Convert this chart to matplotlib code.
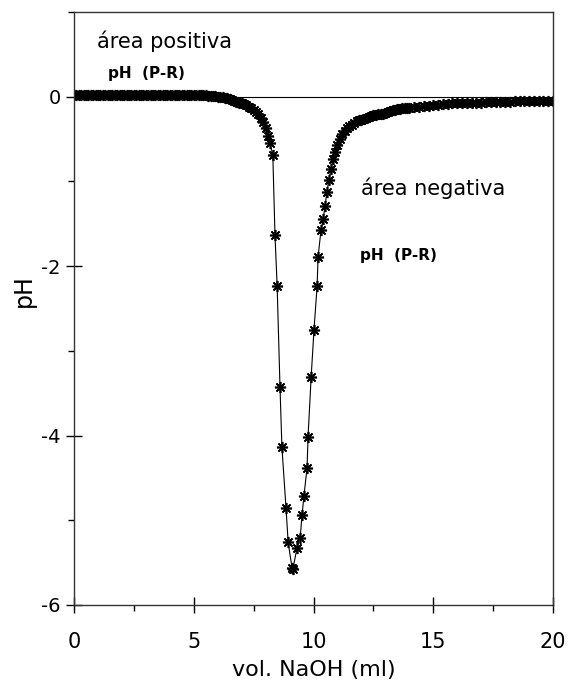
import matplotlib
matplotlib.use("Agg")
import matplotlib.pyplot as plt
from matplotlib.ticker import MultipleLocator

plt.rcParams['font.family'] = ['DejaVu Sans']
plt.rcParams['axes.unicode_minus'] = False

# vol. NaOH (ml) and pH difference (P-R)
vol = [0.0, 0.1, 0.2, 0.3, 0.4, 0.5, 0.6, 0.7, 0.8, 0.9, 1.0, 1.1, 1.2, 1.3,
       1.4, 1.5, 1.6, 1.7, 1.8, 1.9, 2.0, 2.1, 2.2, 2.3, 2.4, 2.5, 2.6, 2.7,
       2.8, 2.9, 3.0, 3.1, 3.2, 3.3, 3.4, 3.5, 3.6, 3.7, 3.8, 3.9, 4.0, 4.1,
       4.2, 4.3, 4.4, 4.5, 4.6, 4.7, 4.8, 4.9, 5.0, 5.1, 5.2, 5.3, 5.4, 5.5,
       5.6, 5.7, 5.8, 5.9, 6.0, 6.1, 6.2, 6.3, 6.4, 6.5, 6.6, 6.7, 6.8, 6.9,
       7.0, 7.1, 7.2, 7.3, 7.4, 7.5, 7.6, 7.7, 7.8, 7.9, 8.0, 8.1, 8.18, 8.3,
       8.39, 8.48, 8.6, 8.68, 8.85, 8.94, 9.1, 9.14, 9.31, 9.44, 9.52, 9.6,
       9.73, 9.77, 9.9, 10.02, 10.15, 10.19, 10.31, 10.4, 10.48, 10.56, 10.64,
       10.72, 10.81, 10.9, 11.0, 11.1, 11.2, 11.3, 11.4, 11.5, 11.6, 11.7,
       11.8, 11.9, 12.0, 12.1, 12.2, 12.3, 12.4, 12.5, 12.6, 12.7, 12.8, 12.9,
       13.0, 13.1, 13.2, 13.3, 13.4, 13.5, 13.6, 13.7, 13.8, 13.9, 14.0, 14.2,
       14.4, 14.6, 14.8, 15.0, 15.2, 15.4, 15.6, 15.8, 16.0, 16.2, 16.4, 16.6,
       16.8, 17.0, 17.2, 17.4, 17.6, 17.8, 18.0, 18.2, 18.4, 18.6, 18.8, 19.0,
       19.2, 19.4, 19.6, 19.8, 20.0]
dph = [0.02, 0.02, 0.02, 0.02, 0.02, 0.02, 0.02, 0.02, 0.02, 0.02, 0.02,
       0.02, 0.02, 0.02, 0.02, 0.02, 0.02, 0.02, 0.02, 0.02, 0.02, 0.02,
       0.02, 0.02, 0.02, 0.02, 0.02, 0.02, 0.02, 0.02, 0.02, 0.02, 0.02,
       0.02, 0.02, 0.02, 0.02, 0.02, 0.02, 0.02, 0.02, 0.02, 0.02, 0.02,
       0.02, 0.02, 0.02, 0.02, 0.02, 0.02, 0.02, 0.02, 0.02, 0.015, 0.015,
       0.015, 0.01, 0.01, 0.01, 0.005, 0.0, -0.005, -0.01, -0.015, -0.02,
       -0.03, -0.04, -0.05, -0.06, -0.07, -0.08, -0.09, -0.10, -0.12, -0.14,
       -0.16, -0.18, -0.20, -0.25, -0.30, -0.37, -0.46, -0.55, -0.69, -1.63,
       -2.23, -3.43, -4.14, -4.85, -5.26, -5.56, -5.57, -5.33, -5.21, -4.94,
       -4.71, -4.38, -4.02, -3.31, -2.75, -2.23, -1.89, -1.58, -1.45, -1.29,
       -1.12, -0.98, -0.86, -0.74, -0.65, -0.57, -0.50, -0.44, -0.40, -0.37,
       -0.35, -0.33, -0.31, -0.29, -0.28, -0.27, -0.26, -0.25, -0.24, -0.23,
       -0.22, -0.22, -0.21, -0.20, -0.20, -0.19, -0.18, -0.17, -0.16, -0.16,
       -0.15, -0.15, -0.14, -0.14, -0.13, -0.13, -0.12, -0.12, -0.11, -0.11,
       -0.10, -0.10, -0.09, -0.09, -0.08, -0.08, -0.08, -0.07, -0.07, -0.07,
       -0.07, -0.06, -0.06, -0.06, -0.06, -0.06, -0.06, -0.05, -0.05, -0.05,
       -0.05, -0.05, -0.05, -0.05, -0.05, -0.05]

fig = plt.figure(figsize=(5.71, 6.89), dpi=100)
ax = fig.add_axes([0.1296, 0.122, 0.839, 0.8607])

ax.axhline(0, color='black', lw=0.8, zorder=1)
ax.plot(vol, dph, color='black', lw=0.8, marker=(8, 2, 0), ms=8, mew=1.2,
        mfc='black', mec='black', zorder=2)

ax.set_xlim(0, 20)
ax.set_ylim(-6, 1)
ax.xaxis.set_major_locator(MultipleLocator(5))
ax.xaxis.set_minor_locator(MultipleLocator(2.5))
ax.set_yticks([0, -2, -4, -6])
ax.yaxis.set_minor_locator(MultipleLocator(1))
ax.tick_params(which='major', direction='inout', length=11, width=1)
ax.tick_params(which='minor', direction='out', length=4, width=1)
ax.tick_params(axis='x', which='major', labelsize=15, pad=14)
ax.tick_params(axis='y', which='major', labelsize=14, pad=4)
for s in ax.spines.values():
    s.set_linewidth(1.0)
    s.set_color('#333333')

ax.set_xlabel('vol. NaOH (ml)', fontsize=16, labelpad=6)
ax.set_ylabel('pH', fontsize=17)
ax.yaxis.set_label_coords(-0.08, 0.53)

ax.text(0.96, 0.575, 'área positiva', fontsize=15, va='baseline')
ax.text(1.42, 0.221, 'pH  (P-R)', fontsize=11, fontweight='bold', va='baseline')
ax.text(12.0, -1.16, 'área negativa', fontsize=15, va='baseline')
ax.text(11.92, -1.93, 'pH  (P-R)', fontsize=11, fontweight='bold', va='baseline')

fig.savefig('out.png', dpi=100)
